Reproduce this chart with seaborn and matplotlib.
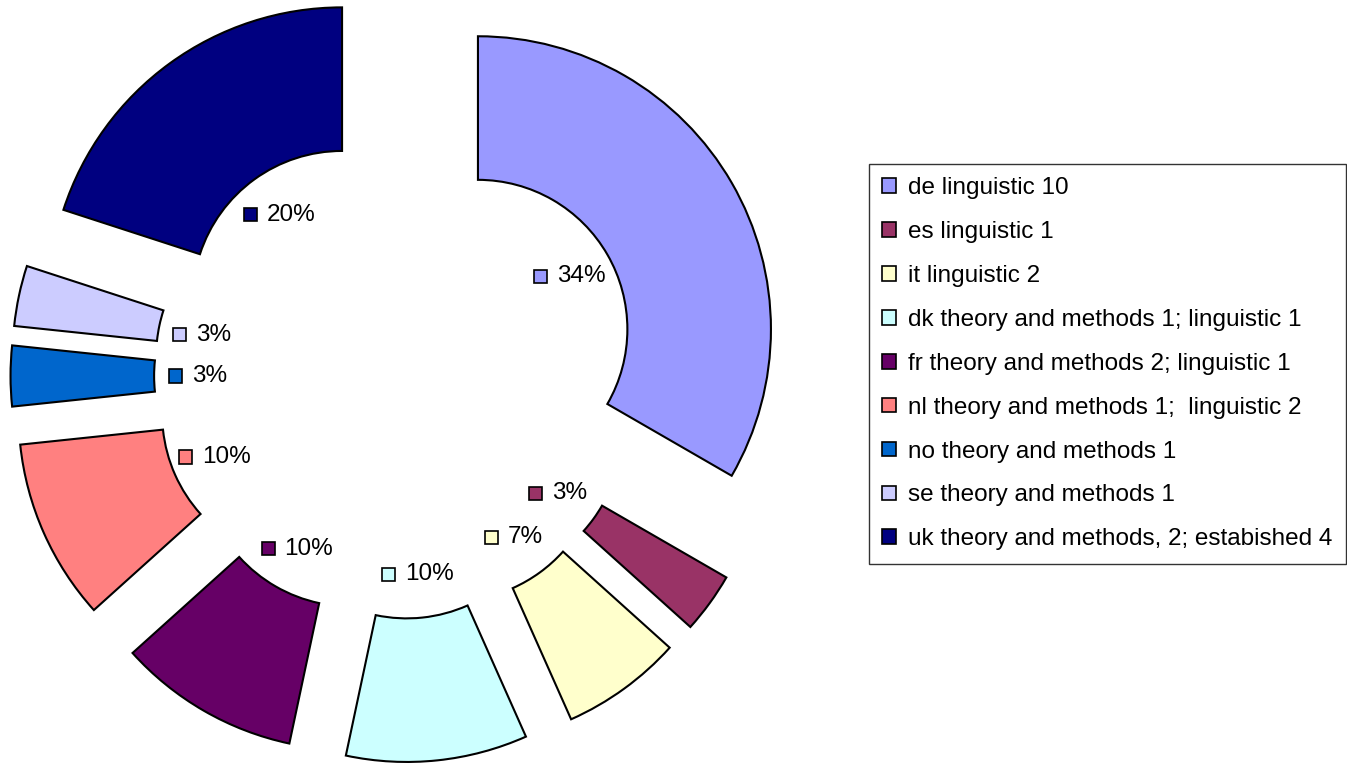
import numpy as np
import matplotlib
matplotlib.use("Agg")
import matplotlib.pyplot as plt
import seaborn as sns
from matplotlib.patches import Rectangle
from matplotlib.offsetbox import AnnotationBbox, DrawingArea, HPacker, TextArea

# data
countries = ["de", "es", "it", "dk", "fr", "nl", "no", "se", "uk"]
legend_labels = [
    "de linguistic 10",
    "es linguistic 1",
    "it linguistic 2",
    "dk theory and methods 1; linguistic 1",
    "fr theory and methods 2; linguistic 1",
    "nl theory and methods 1;  linguistic 2",
    "no theory and methods 1",
    "se theory and methods 1",
    "uk theory and methods, 2; estabished 4",
]
counts = [10, 1, 2, 3, 3, 3, 1, 1, 6]
pct_labels = [34, 3, 7, 10, 10, 10, 3, 3, 20]  # as printed on the chart
colors = ["#9999FF", "#993366", "#FFFFCC", "#CCFFFF", "#660066",
          "#FF8080", "#0066CC", "#CCCCFF", "#000080"]

sns.set_theme(style="white")
plt.rcParams["font.family"] = ["Liberation Sans", "DejaVu Sans"]
palette = sns.color_palette(colors)

W, H = 1347, 768
R_PX = 293.0
CX, CY = 397.0, 376.0  # pie centre in pixels (from top-left)
FS = 17.5

fig = plt.figure(figsize=(W / 100, H / 100), dpi=100)
ax = fig.add_axes([0, 0, 1, 1])

wedges, _ = ax.pie(
    counts, colors=palette, startangle=90, counterclock=False,
    explode=[0.319] * len(counts), radius=1.0,
    wedgeprops=dict(width=0.49, edgecolor="black", linewidth=1.5),
    frame=True,
)
ax.set_xlim(-CX / R_PX, (W - CX) / R_PX)
ax.set_ylim(-(H - CY) / R_PX, CY / R_PX)
ax.set_aspect("auto")
ax.axis("off")

# percentage labels with colour marker, sitting in the hole
total = float(sum(counts))
cum = 0.0
for val, pct, col in zip(counts, pct_labels, palette):
    mid = 90 - 360 * (cum + val / 2) / total
    cum += val
    r = 0.68
    x = r * np.cos(np.deg2rad(mid))
    y = r * np.sin(np.deg2rad(mid))
    da = DrawingArea(9.5, 9.5, 0, 0)
    da.add_artist(Rectangle((0, 0), 9.5, 9.5, facecolor=col,
                            edgecolor="black", linewidth=1.2))
    ta = TextArea(f"{pct}%", textprops=dict(fontsize=FS, color="black"))
    box = HPacker(children=[da, ta], align="center", pad=0, sep=7)
    ab = AnnotationBbox(box, (x, y), frameon=False, box_alignment=(0.5, 0.5))
    ax.add_artist(ab)

leg = fig.legend(
    wedges, legend_labels, loc="upper left",
    bbox_to_anchor=(869 / W, 1 - 164 / H), borderaxespad=0,
    fontsize=FS, labelcolor="black", frameon=True, fancybox=False,
    shadow=False, handlelength=0.55, handleheight=0.55, handletextpad=0.5,
    labelspacing=0.9, borderpad=0.55,
)
leg.get_frame().set_edgecolor("black")
leg.get_frame().set_linewidth(1.0)
for h in leg.legend_handles:
    h.set_linewidth(1.2)

fig.savefig("out.png", dpi=100)
